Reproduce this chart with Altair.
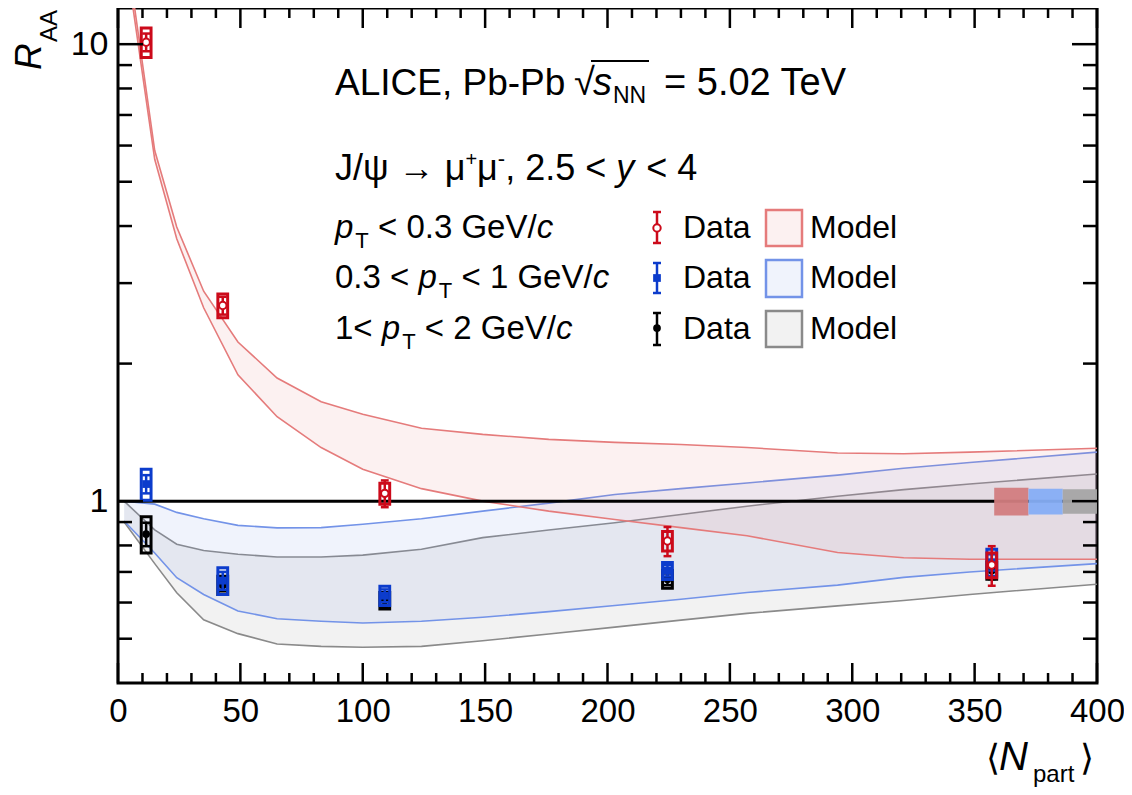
import altair as alt
import pandas as pd

FONT = "Liberation Sans"

# ---------------- data ----------------
npart = [11.5, 42.8, 109.0, 224.5, 357.0]

raa_low = [10.1, 2.68, 1.04, 0.818, 0.725]      # pT < 0.3 GeV/c
stat_low = [0.45, 0.12, 0.07, 0.06, 0.072]
syst_low = [0.75, 0.16, 0.055, 0.04, 0.045]

raa_mid = [1.09, 0.67, 0.621, 0.704, 0.735]     # 0.3 < pT < 1 GeV/c
stat_mid = [0.05, 0.03, 0.02, 0.02, 0.03]
syst_mid = [0.085, 0.045, 0.03, 0.03, 0.05]

raa_high = [0.847, 0.655, 0.606, 0.675, 0.705]  # 1 < pT < 2 GeV/c
stat_high = [0.05, 0.02, 0.02, 0.02, 0.03]
syst_high = [0.077, 0.03, 0.025, 0.03, 0.03]

model_n = [2.5, 15, 24, 35, 49, 65, 83, 100, 124, 149, 176, 203, 230, 257, 294, 321, 348, 400]
red_hi = [17.5, 5.85, 3.98, 2.88, 2.23, 1.86, 1.65, 1.55, 1.444, 1.40, 1.365, 1.345, 1.33, 1.31, 1.275, 1.27, 1.28, 1.305]
red_lo = [16.4, 5.6, 3.75, 2.65, 1.89, 1.53, 1.31, 1.175, 1.065, 1.0, 0.951, 0.912, 0.875, 0.84, 0.772, 0.752, 0.746, 0.746]
blue_hi = [1.0, 0.985, 0.945, 0.915, 0.885, 0.874, 0.875, 0.89, 0.915, 0.951, 0.99, 1.034, 1.065, 1.096, 1.14, 1.18, 1.215, 1.28]
blue_lo = [0.905, 0.77, 0.68, 0.625, 0.575, 0.553, 0.546, 0.541, 0.546, 0.557, 0.573, 0.591, 0.61, 0.631, 0.655, 0.681, 0.70, 0.73]
gray_hi = [1.0, 0.865, 0.805, 0.78, 0.765, 0.755, 0.755, 0.762, 0.785, 0.832, 0.865, 0.897, 0.935, 0.975, 1.025, 1.06, 1.09, 1.147]
gray_lo = [0.9, 0.73, 0.63, 0.55, 0.513, 0.487, 0.481, 0.479, 0.481, 0.495, 0.512, 0.53, 0.549, 0.568, 0.59, 0.606, 0.625, 0.658]

glob_x1 = [358, 372, 386]
glob_x2 = [372, 386, 400]
glob_lo = [0.93, 0.935, 0.938]
glob_hi = [1.07, 1.064, 1.062]

x_major = [0, 50, 100, 150, 200, 250, 300, 350, 400]
x_minor = [v for v in range(10, 400, 10) if v % 50 != 0]
y_major = [1, 10]
y_minor = [0.5, 0.6, 0.7, 0.8, 0.9, 2, 3, 4, 5, 6, 7, 8, 9]

# ---------------- styles ----------------
RED = "#cc0a1a"
BLUE = "#0c3ccc"
BLACK = "#000000"
MRED = "#e57b7b"
MBLUE = "#7393e8"
MGRAY = "#8a8a8a"
GRED = "#d27d80"
GBLUE = "#86aef5"
GGRAY = "#a5a5a5"
BAND_OP = 0.11

W_PLOT, H_PLOT = 979, 675

xs = alt.Scale(domain=[0, 400], nice=False, zero=False)
ys = alt.Scale(type="log", domain=[0.4, 12], nice=False)
xaxis = alt.Axis(values=x_major, ticks=False, domain=False, grid=False, labelFont=FONT,
                 labelFontSize=33, labelColor="black", labelPadding=12, labelFlush=False,
                 labelOverlap=False, title=None)
yaxis = alt.Axis(values=y_major, ticks=False, domain=False, grid=False, labelFont=FONT,
                 labelFontSize=34, labelColor="black", labelPadding=10, format="~g",
                 labelOverlap=False, title=None)


def X(f):
    return alt.X(f, type="quantitative", scale=xs, axis=xaxis, title=None)


def Y(f):
    return alt.Y(f, type="quantitative", scale=ys, axis=yaxis, title=None)


layers = []

# ---------------- model bands ----------------
def band(lo, hi, col):
    df = pd.DataFrame({"n": model_n, "lo": lo, "hi": hi})
    base = alt.Chart(df)
    a = base.mark_area(color=col, opacity=BAND_OP, clip=True).encode(x=X("n"), y=Y("lo"), y2="hi")
    l1 = base.mark_line(color=col, strokeWidth=1.6, clip=True).encode(x=X("n"), y=Y("lo"))
    l2 = base.mark_line(color=col, strokeWidth=1.6, clip=True).encode(x=X("n"), y=Y("hi"))
    return [a, l1, l2]


layers += band(gray_lo, gray_hi, MGRAY)
layers += band(blue_lo, blue_hi, MBLUE)
layers += band(red_lo, red_hi, MRED)

# unity line
layers.append(alt.Chart(pd.DataFrame({"r": [1.0]})).mark_rule(color="black", strokeWidth=3).encode(y=Y("r")))

# global uncertainty boxes
gdf = pd.DataFrame({"x1": glob_x1, "x2": glob_x2, "lo": glob_lo, "hi": glob_hi,
                    "c": [GRED, GBLUE, GGRAY]})
layers.append(alt.Chart(gdf).mark_rect(opacity=0.95).encode(
    x=X("x1"), x2="x2", y=Y("lo"), y2="hi", color=alt.Color("c:N", scale=None)))


# ---------------- data points ----------------
def series(vals, stat, syst, col, shape, filled):
    df = pd.DataFrame({"n": npart, "v": vals, "st": stat, "sy": syst})
    base = alt.Chart(df).transform_calculate(
        blo="datum.v - datum.sy", bhi="datum.v + datum.sy",
        slo="datum.v - datum.st", shi="datum.v + datum.st",
        bx1="datum.n - 2.0", bx2="datum.n + 2.0",
        cx1="datum.n - 1.6", cx2="datum.n + 1.6")
    box = base.mark_rect(fillOpacity=0, stroke=col, strokeWidth=3).encode(
        x=X("bx1:Q"), x2="bx2:Q", y=Y("blo:Q"), y2="bhi:Q")
    bar = base.mark_rule(color=col, strokeWidth=2.5).encode(x=X("n"), y=Y("slo:Q"), y2="shi:Q")
    cap1 = base.mark_rule(color=col, strokeWidth=2.5).encode(x=X("cx1:Q"), x2="cx2:Q", y=Y("slo:Q"))
    cap2 = base.mark_rule(color=col, strokeWidth=2.5).encode(x=X("cx1:Q"), x2="cx2:Q", y=Y("shi:Q"))
    if filled:
        pt = base.mark_point(shape=shape, filled=True, color=col, size=60, opacity=1).encode(x=X("n"), y=Y("v"))
    else:
        pt = base.mark_point(shape=shape, filled=True, fill="white", stroke=col, strokeWidth=2,
                             size=55, opacity=1).encode(x=X("n"), y=Y("v"))
    return [box, bar, cap1, cap2, pt]


layers += series(raa_high, stat_high, syst_high, BLACK, "circle", True)
layers += series(raa_mid, stat_mid, syst_mid, BLUE, "square", True)
layers += series(raa_low, stat_low, syst_low, RED, "circle", False)

# ---------------- ticks (inside the frame) ----------------
def tick_df(v):
    return pd.DataFrame({"t": v})


for vals, ln in ((x_major, 20), (x_minor, 10)):
    layers.append(alt.Chart(tick_df(vals)).mark_rule(color="black", strokeWidth=2.5).encode(
        x=X("t"), y=alt.value(H_PLOT), y2=alt.value(H_PLOT - ln)))
    layers.append(alt.Chart(tick_df(vals)).mark_rule(color="black", strokeWidth=2.5).encode(
        x=X("t"), y=alt.value(0), y2=alt.value(ln)))
for vals, ln in ((y_major, 25), (y_minor, 14)):
    layers.append(alt.Chart(tick_df(vals)).mark_rule(color="black", strokeWidth=2.5).encode(
        y=Y("t"), x=alt.value(0), x2=alt.value(ln)))
    layers.append(alt.Chart(tick_df(vals)).mark_rule(color="black", strokeWidth=2.5).encode(
        y=Y("t"), x=alt.value(W_PLOT), x2=alt.value(W_PLOT - ln)))

# ---------------- text ----------------
one = pd.DataFrame({"k": [0]})

CW = {' ': 278, ',': 278, '-': 333, '.': 278, '/': 278, '<': 584, '=': 584, '+': 584,
      'A': 667, 'C': 722, 'D': 722, 'E': 667, 'G': 778, 'I': 278, 'J': 500, 'L': 556,
      'M': 833, 'N': 722, 'P': 667, 'T': 611, 'V': 667, 'a': 556, 'b': 556, 'c': 500,
      'd': 556, 'e': 556, 'l': 222, 'o': 556, 'p': 556, 'r': 333, 's': 500, 't': 278,
      'y': 500, 'ψ': 712, 'μ': 576, '→': 1000, '√': 549}


def tw(s, size):
    return sum(CW.get(c, 556) for c in s) * size / 1000.0


def txt(s, x, y, size, italic=False, angle=None):
    kw = dict(text=s, font=FONT, fontSize=size, align="left", baseline="alphabetic",
              color="black", fontStyle="italic" if italic else "normal")
    if angle is not None:
        kw["angle"] = angle
    return alt.Chart(one).mark_text(**kw).encode(x=alt.value(x), y=alt.value(y))


def run(pieces, x0, y0):
    """Lay out text pieces one after another; pieces: (text, size, italic, dy[, fixed_x])."""
    out = []
    x = x0
    pos = []
    for pc in pieces:
        t, size, it, dy = pc[:4]
        if len(pc) > 4:
            x = pc[4]
        lead = len(t) - len(t.lstrip(" "))
        x += lead * 278 * size / 1000.0
        core = t.strip(" ")
        trail = len(t) - lead - len(core)
        out.append(txt(core, x, y0 + dy, size, it))
        pos.append(x)
        x += tw(core, size) + trail * 278 * size / 1000.0 + (2 if it else 0)
    return out, pos, x


OX, OY = 118, 8  # page position of plot origin

title1 = ["ALICE, Pb-Pb", "√", "s", "NN", "= 5.02 TeV"]
t1, p1, e1 = run([(title1[0], 37, False, 0, 335 - OX),
                  (title1[1], 38, False, 0, 574 - OX),
                  (title1[2], 38, True, 0, 593 - OX),
                  (title1[3], 23, False, 8, 613 - OX),
                  (title1[4], 38, False, 0, 664 - OX)], 0, 95 - OY)
layers += t1
# overbar of the square root
layers.append(alt.Chart(one).mark_rule(color="black", strokeWidth=1.8).encode(
    x=alt.value(p1[1] + 17), x2=alt.value(p1[3] + 36), y=alt.value(95 - OY - 34)))

title2 = ["J/ψ → μ", "+", "μ", "-", ", 2.5 < ", "y", " < 4"]
t2, _, _ = run([(title2[0], 36, False, 0), (title2[1], 20, False, -14), (title2[2], 36, False, 0),
                (title2[3], 22, False, -14), (title2[4], 36, False, 0), (title2[5], 36, True, 0),
                (title2[6], 36, False, 0)], 335 - OX, 180 - OY)
layers += t2

row_labels = [
    [("p", True), ("T", False), (" < 0.3 GeV/", False), ("c", True)],
    [("0.3 < ", False), ("p", True), ("T", False), (" < 1 GeV/", False), ("c", True)],
    [("1< ", False), ("p", True), ("T", False), (" < 2 GeV/", False), ("c", True)],
]
row_base = [238, 288, 339]
for lab, yb in zip(row_labels, row_base):
    pcs = []
    for t, it in lab:
        if t == "T":
            pcs.append((t, 22, False, 10))
        else:
            pcs.append((t, 33, it, 0))
    tt, _, _ = run(pcs, 335 - OX, yb - OY)
    layers += tt
    layers.append(txt("Data", 683 - OX, yb - OY, 32))
    layers.append(txt("Model", 810 - OX, yb - OY, 32))

# legend glyphs: data
gly = [(RED, 212, 243, 228, "circle", False), (BLUE, 263, 293, 278, "square", True),
       (BLACK, 313, 345, 328, "circle", True)]
gx = 657 - OX
for col, t, b, c, shape, filled in gly:
    layers.append(alt.Chart(one).mark_rule(color=col, strokeWidth=2.5).encode(
        x=alt.value(gx), y=alt.value(t - OY), y2=alt.value(b - OY)))
    for yy in (t, b):
        layers.append(alt.Chart(one).mark_rule(color=col, strokeWidth=2.5).encode(
            x=alt.value(gx - 4), x2=alt.value(gx + 4), y=alt.value(yy - OY)))
    if filled:
        layers.append(alt.Chart(one).mark_point(shape=shape, filled=True, color=col, size=60, opacity=1).encode(
            x=alt.value(gx), y=alt.value(c - OY)))
    else:
        layers.append(alt.Chart(one).mark_point(shape=shape, filled=True, fill="white", stroke=col,
                                                strokeWidth=2, size=55, opacity=1).encode(
            x=alt.value(gx), y=alt.value(c - OY)))

# legend glyphs: model
for col, t, b in ((MRED, 210, 246), (MBLUE, 260, 297), (MGRAY, 311, 347)):
    layers.append(alt.Chart(one).mark_rect(fill=col, fillOpacity=BAND_OP, stroke=col, strokeWidth=2.5).encode(
        x=alt.value(766 - OX), x2=alt.value(802 - OX), y=alt.value(t - OY), y2=alt.value(b - OY)))

# axis titles
layers.append(txt("R", 41 - OX, 70 - OY, 37, italic=True, angle=270))
layers.append(txt("AA", 57 - OX, 42 - OY, 24, angle=270))
layers.append(txt("⟨", 986 - OX, 770 - OY, 36))
layers.append(txt("N", 999 - OX, 770 - OY, 40, italic=True))
layers.append(txt("part", 1033 - OX, 782 - OY, 24))
layers.append(txt("⟩", 1080 - OX, 770 - OY, 36))

chart = alt.layer(*layers).properties(
    width=W_PLOT, height=H_PLOT,
    padding={"left": 110, "top": 0, "right": 27, "bottom": 104},
    autosize=alt.AutoSizeParams(type="none"),
).configure_view(stroke="black", strokeWidth=3)

chart.save("out.html", embed_options={"renderer": "svg", "actions": False})
